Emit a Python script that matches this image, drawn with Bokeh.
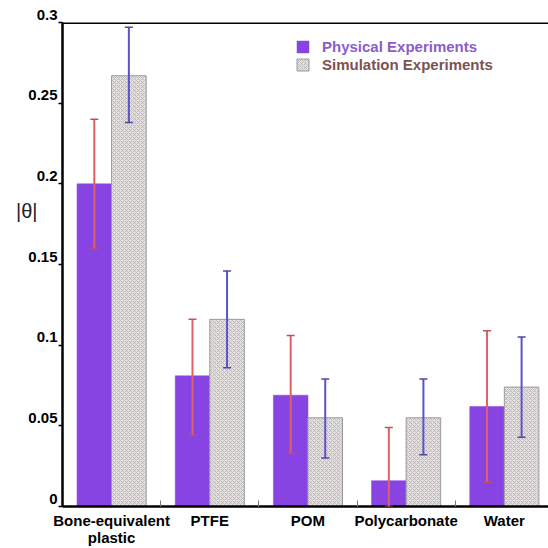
import numpy as np
from bokeh.plotting import figure
from bokeh.models import (Range1d, FixedTicker, ColumnDataSource, Whisker,
                          Span, Legend, LegendItem, LinearAxis)
from bokeh.embed import file_html
from bokeh.resources import INLINE

# Materials and measured mean |theta| error values
categories = ["Bone-equivalent\nplastic", "PTFE", "POM", "Polycarbonate", "Water"]
physical = [0.200, 0.081, 0.069, 0.016, 0.062]
physical_upper = [0.240, 0.116, 0.106, 0.049, 0.109]
physical_lower = [0.160, 0.044, 0.033, 0.000, 0.015]
simulation = [0.267, 0.116, 0.055, 0.055, 0.074]
simulation_upper = [0.297, 0.146, 0.079, 0.079, 0.105]
simulation_lower = [0.238, 0.086, 0.030, 0.032, 0.043]
y_ticks = [0, 0.05, 0.1, 0.15, 0.2, 0.25, 0.3]
y_title = "|θ|"
y_title_at = 0.183

PURPLE = "#8844e2"
FONT = "Liberation Sans"

centers = np.arange(len(categories)) + 0.5
offset = 0.176
bar_w = 0.352

phys_src = ColumnDataSource(dict(x=centers - offset, top=physical,
                                 upper=physical_upper, lower=physical_lower))
sim_src = ColumnDataSource(dict(x=centers + offset, top=simulation,
                                upper=simulation_upper, lower=simulation_lower))

p = figure(width=548, height=548, output_backend="svg", toolbar_location=None,
           x_range=Range1d(0, 4.95), y_range=Range1d(0, 0.3),
           min_border_left=62, min_border_right=0, min_border_top=22,
           min_border_bottom=0)
p.outline_line_color = None
p.grid.grid_line_color = None
p.background_fill_color = "white"

r_phys = p.vbar(x="x", top="top", width=bar_w, source=phys_src,
                fill_color=PURPLE, line_color=PURPLE, line_width=0.5)
r_sim = p.vbar(x="x", top="top", width=bar_w, source=sim_src,
               fill_color="#e4e0e0", line_color="#9a9a9a", line_width=1,
               hatch_pattern="diagonal_cross", hatch_color="#a8a4a4",
               hatch_scale=4, hatch_weight=0.6)

# error bars: stems drawn over the bars, with small caps
for src, stem, cap in ((phys_src, "#e0606a", "#c05060"),
                       (sim_src, "#5a52cc", "#4a4aa0")):
    w = Whisker(base="x", upper="upper", lower="lower", source=src,
                line_color=stem, line_width=2, level="annotation")
    w.upper_head.line_color = cap
    w.lower_head.line_color = cap
    w.upper_head.size = 8
    w.lower_head.size = 8
    w.upper_head.line_width = 1.5
    w.lower_head.line_width = 1.5
    p.add_layout(w)

# top border of the frame
p.add_layout(Span(location=0.3, dimension="width", line_color="black",
                  line_width=3))


def label_style(ax, size="15px", bold=True):
    ax.major_label_text_font = FONT
    ax.major_label_text_font_style = "bold" if bold else "normal"
    ax.major_label_text_font_size = size
    ax.major_label_text_color = "black"


def bare(ax):
    ax.axis_line_color = None
    ax.major_tick_line_color = None
    ax.minor_tick_line_color = None
    ax.major_tick_in = 0
    ax.major_tick_out = 0
    ax.minor_tick_in = 0
    ax.minor_tick_out = 0


# x axis: first line of each category name, group separators as inner ticks
first_lines = [c.split("\n")[0] for c in categories]
second_lines = [c.split("\n")[1] if "\n" in c else "" for c in categories]

xa = p.xaxis[0]
xa.ticker = FixedTicker(ticks=list(centers), minor_ticks=[1, 2, 3, 4])
xa.major_label_overrides = {float(c): lab for c, lab in zip(centers, first_lines)}
xa.major_tick_in = 0
xa.major_tick_out = 0
xa.minor_tick_in = 6
xa.minor_tick_out = 0
xa.minor_tick_line_color = "#777777"
xa.axis_line_width = 2.5
xa.axis_line_color = "black"
xa.major_label_standoff = 5
label_style(xa)

# second line of wrapped category names
xa2 = LinearAxis(ticker=FixedTicker(ticks=[float(c) for c, s in zip(centers, second_lines) if s]),
                 major_label_overrides={float(c): s for c, s in zip(centers, second_lines) if s},
                 major_label_standoff=-3)
bare(xa2)
label_style(xa2)
p.add_layout(xa2, "below")

# y axis: labels sit just above their tick marks
ya = p.yaxis[0]
ya.ticker = FixedTicker(ticks=y_ticks, minor_ticks=[])
ya.major_label_overrides = {float(v): f"{v:g}\n " for v in y_ticks}
ya.major_tick_in = 0
ya.major_tick_out = 4
ya.major_tick_line_width = 1.5
ya.axis_line_width = 2.5
ya.axis_line_color = "black"
ya.major_label_standoff = 1
ya.major_label_text_line_height = 1.0
label_style(ya)

# y title, set horizontally to the left of the tick labels
ya2 = LinearAxis(ticker=FixedTicker(ticks=[y_title_at]),
                 major_label_overrides={y_title_at: y_title},
                 major_label_standoff=-12)
bare(ya2)
label_style(ya2, size="20px", bold=False)
ya2.major_label_text_color = "#222222"
p.add_layout(ya2, "left")

# legend: one entry per series so each label keeps its own colour
for item, col, loc in ((LegendItem(label="Physical Experiments", renderers=[r_phys]), "#8a5ccc", (233, 451)),
                       (LegendItem(label="Simulation Experiments", renderers=[r_sim]), "#7c5252", (233, 433))):
    lg = Legend(items=[item], border_line_color=None, background_fill_alpha=0,
                glyph_width=15, glyph_height=15, label_text_font=FONT,
                label_text_font_style="bold", label_text_font_size="15px",
                label_text_color=col, margin=0, padding=0, label_standoff=12,
                location=loc)
    p.add_layout(lg)

open("out.html", "w").write(file_html(p, INLINE))
